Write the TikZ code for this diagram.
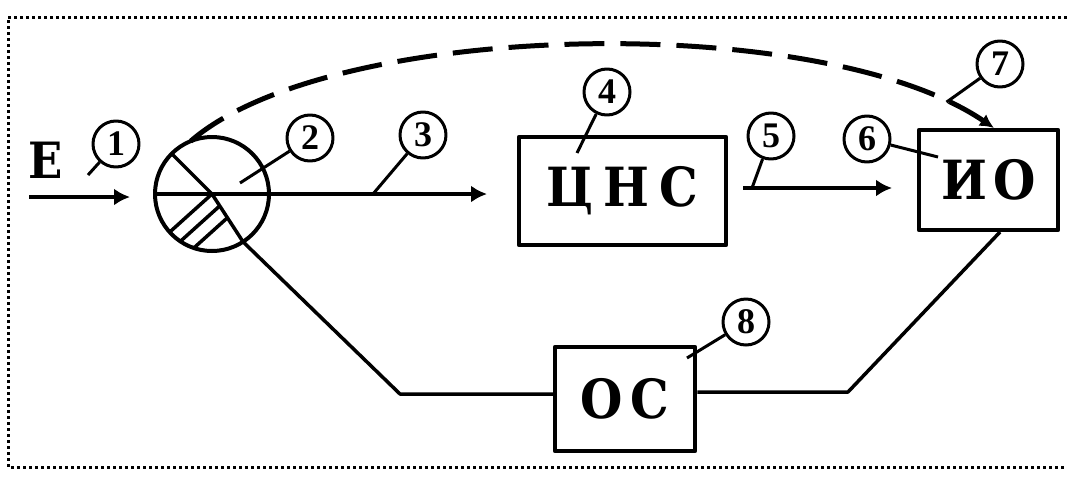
\documentclass[tikz,border=0pt]{standalone}
\usepackage{fontspec}
\usetikzlibrary{arrows.meta}
\newfontfamily\boxfont{DejaVu Serif}[FakeStretch=0.9]
\newfontfamily\numfont{Liberation Serif}
\begin{document}
\begin{tikzpicture}[x=1pt,y=-1pt,line join=round,
  ln/.style={line width=3.5pt},
  arr/.style={line width=3.5pt,-{Latex[length=16pt,width=17pt]}},
  blk/.style={draw,line width=4.5pt,inner sep=0pt,font=\boxfont\bfseries\fontsize{54}{54}\selectfont},
  lbl/.style={draw,circle,line width=3pt,minimum size=46pt,inner sep=0pt,font=\numfont\bfseries\fontsize{36}{36}\selectfont},
  ptr/.style={line width=3pt},
  frame/.style={line width=3pt,dash pattern=on 3pt off 3pt},
  dashline/.style={line width=5pt,dash pattern=on 40pt off 16pt}]
\useasboundingbox (0,0) rectangle (1067,477);
% frame
\draw[frame] (1067,17) -- (8,17) -- (8,467) -- (1067,467);
% blocks
\node[blk,minimum width=207pt,minimum height=108pt] (cns) at (622.5,191) {Ц\hspace{10pt}Н\hspace{10pt}С};
\node[blk,minimum width=139pt,minimum height=100pt] (io) at (988.5,180) {И\hspace{6pt}О};
\node[blk,minimum width=140pt,minimum height=104pt] (os) at (625,399) {О\hspace{8pt}С};
\node[circle,draw,line width=4pt,minimum size=114pt,inner sep=0pt,outer sep=0pt] (sum) at (212,194) {};
\node[font=\boxfont\bfseries\fontsize{50}{50}\selectfont] (E) at (46,160) {E};
% circle interior
\draw[ln] (sum.west) -- (sum.east);
\draw[ln] (sum.135) -- (sum.center) -- (sum.-57);
\draw[ln] (sum.center) -- (sum.222);
\begin{scope}
  \clip (212,194) circle[radius=57];
  \clip (212,194) -- (321,362) -- (212,394) -- (63,328) -- cycle;
  \draw[ln] (295.7,137.5) -- (147.1,271.3);
  \draw[ln] (305,147.9) -- (156.4,281.7);
\end{scope}
% coordinates
\coordinate (e0) at (29,197);
\coordinate (e1) at (130,197);
\coordinate (t3) at (487,194);
\coordinate (s5) at (743,188);
\coordinate (t5) at (892,188);
\coordinate (t7) at (994,128);
\coordinate (fb1) at (400,394);
\coordinate (fb2) at (848,392);
\coordinate (fb3) at (1000,232);
% connectors
\draw[arr] (e0) -- (e1);
\draw[arr] (sum.east) -- (t3);
\draw[arr] (s5) -- (t5);
\draw[ln] (sum.-57) -- (fb1) -- (fb1 -| os.west);
\draw[ln] (os.east |- fb2) -- (fb2) -- (fb3);
\draw[dashline,-{Latex[length=14pt,width=14pt]}] (sum.112) .. controls (330,20) and (820,10) .. coordinate[pos=0.92] (p7) (t7);
% labels
\node[lbl] (l1) at (116,144) {1};
\node[lbl] (l2) at (310,138) {2};
\node[lbl] (l3) at (423,135) {3};
\node[lbl] (l4) at (607,92) {4};
\node[lbl] (l5) at (771,136) {5};
\node[lbl] (l6) at (867,139) {6};
\node[lbl] (l7) at (1000,64) {7};
\node[lbl] (l8) at (746,322) {8};
\coordinate (q1) at (88,175);
\coordinate (q2) at (240,183);
\coordinate (q3) at (373,194);
\coordinate (q4) at (577,153);
\coordinate (q5) at (752,188);
\coordinate (q6) at (938,157);
\coordinate (q8) at (687,358);
\draw[ptr] (l1) -- (q1);
\draw[ptr] (l2) -- (q2);
\draw[ptr] (l3) -- (q3);
\draw[ptr] (l4) -- (q4);
\draw[ptr] (l5) -- (q5);
\draw[ptr] (l6) -- (q6);
\draw[ptr] (l7) -- (p7);
\draw[ptr] (l8) -- (q8);
\end{tikzpicture}
\end{document}
